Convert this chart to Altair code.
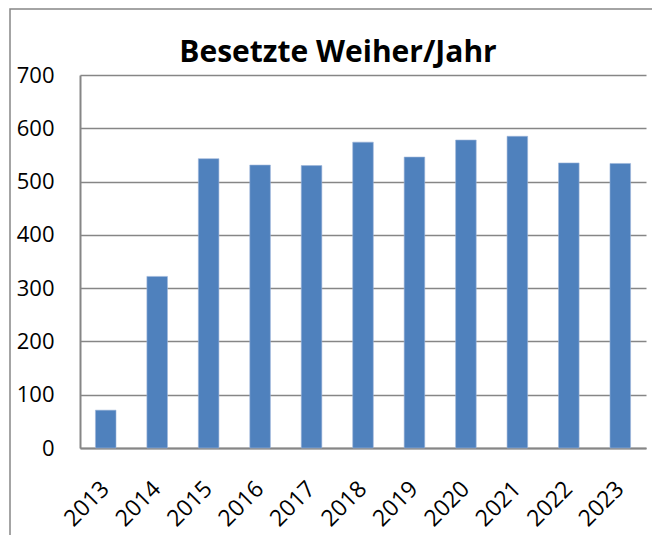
import altair as alt
import pandas as pd

years = ["2013", "2014", "2015", "2016", "2017", "2018", "2019", "2020", "2021", "2022", "2023"]
values = [71, 322, 543, 531, 530, 574, 546, 578, 585, 535, 534]
y_ticks = [0, 100, 200, 300, 400, 500, 600, 700]
title_text = "Besetzte Weiher/Jahr"

df = pd.DataFrame({"year": years, "value": values})

FONT = "Open Sans"
GRAY = "#868686"

bars = alt.Chart(df).mark_bar(color="#4F81BD", stroke="#9DB5DA", strokeWidth=0.6).encode(
    x=alt.X(
        "year:N",
        sort=years,
        scale=alt.Scale(paddingInner=0.6, paddingOuter=0.3),
        axis=alt.Axis(
            title=None,
            labelAngle=315,
            labelAlign="right",
            labelBaseline="middle",
            labelPadding=37,
            labelFont=FONT,
            labelFontSize=23,
            labelColor="black",
            ticks=False,
            domainColor=GRAY,
            domainWidth=2,
            grid=False,
        ),
    ),
    y=alt.Y(
        "value:Q",
        scale=alt.Scale(domain=[0, 700], nice=False),
        axis=alt.Axis(
            title=None,
            values=y_ticks,
            labelFont=FONT,
            labelFontSize=22,
            labelColor="black",
            labelPadding=26,
            ticks=False,
            domainColor=GRAY,
            domainWidth=2,
            gridColor=GRAY,
            gridWidth=1.5,
        ),
    ),
)

frame = alt.Chart(pd.DataFrame({"a": [0]})).mark_rect(
    fill="transparent", stroke=GRAY, strokeWidth=1.5
).encode(
    x=alt.value(-70), x2=alt.value(575), y=alt.value(-66), y2=alt.value(470)
)

title = alt.Chart(pd.DataFrame({"t": [title_text]})).mark_text(
    font=FONT, fontSize=30, fontWeight="bold", color="black",
    align="center", baseline="alphabetic"
).encode(
    text="t:N", x=alt.value(258), y=alt.value(-13)
)

chart = alt.layer(bars, frame, title).properties(
    width=566,
    height=373,
    autosize=alt.AutoSizeParams(type="none"),
    padding={"left": 72, "top": 67, "right": 6, "bottom": 87},
).configure_view(stroke=None)

chart.save("out.html", embed_options={"renderer": "svg", "actions": False})
